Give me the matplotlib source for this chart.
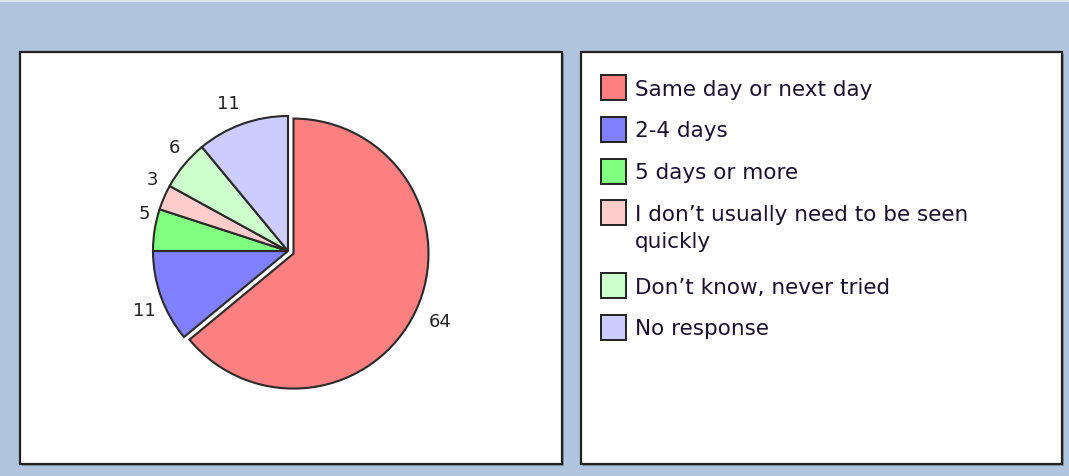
import matplotlib
matplotlib.use("Agg")
import matplotlib.pyplot as plt
from matplotlib.patches import Rectangle
from matplotlib.transforms import offset_copy

categories = ["Same day or next day", "2-4 days", "5 days or more",
              "I don\u2019t usually need to be seen\nquickly",
              "Don\u2019t know, never tried", "No response"]
values = [64, 11, 5, 3, 6, 11]
colors = ["#ff8080", "#8080ff", "#80ff80", "#ffcccc", "#ccffcc", "#ccccff"]
explode = [0.045, 0, 0, 0, 0, 0]
# small label nudges (pixels, x right / y up) to mimic the original placement
label_nudge = [(9, -2), (0, -7), (7, 14), (4, 11), (4, 7), (-8, 4)]

W, H = 1069, 477
fig = plt.figure(figsize=(W / 100, H / 100), dpi=100)
fig.patch.set_facecolor("#b0c4de")

bg = fig.add_axes([0, 0, 1, 1])
bg.set_xlim(0, W)
bg.set_ylim(H, 0)
bg.axis("off")
bg.add_patch(Rectangle((0, 0), W, 3, facecolor="#dde4ee", edgecolor="none"))
for (x0, y0, x1, y1) in [(20, 53, 562, 465), (581, 53, 1062, 465)]:
    bg.add_patch(Rectangle((x0 + 2, y0 + 2), x1 - x0, y1 - y0,
                           facecolor="#8a95a5", edgecolor="none"))
    bg.add_patch(Rectangle((x0, y0), x1 - x0, y1 - y0, facecolor="white",
                           edgecolor="#222222", linewidth=1.6))

cx, cy, r = 288, 252, 135
half = 1.25 * r
pax = fig.add_axes([(cx - half) / W, (H - cy - half) / H, 2 * half / W, 2 * half / H])
wedges, texts = pax.pie(values, labels=[str(v) for v in values], colors=colors,
                        explode=explode, startangle=90, counterclock=False,
                        labeldistance=1.13,
                        wedgeprops=dict(edgecolor="#2a2a2a", linewidth=1.5),
                        textprops=dict(fontsize=13, color="#222222"))
for t, (dx, dy) in zip(texts, label_nudge):
    t.set_ha("center")
    t.set_va("center")
    t.set_transform(offset_copy(t.get_transform(), fig=fig, x=dx, y=dy, units="dots"))

lx_box, lx_text = 601, 635
box_w, box_h = 25, 25
y = 76
for cat, col in zip(categories, colors):
    bg.add_patch(Rectangle((lx_box, y), box_w, box_h, facecolor=col,
                           edgecolor="#222222", linewidth=1.4))
    lines = cat.split("\n")
    for k, line in enumerate(lines):
        bg.text(lx_text, y + box_h / 2 + 1 + k * 27, line, fontsize=15.5,
                color="#1a1030", ha="left", va="center", family="DejaVu Sans")
    y += 41.8 + 31 * (len(lines) - 1)

fig.savefig("out.png", dpi=100, facecolor=fig.get_facecolor())
